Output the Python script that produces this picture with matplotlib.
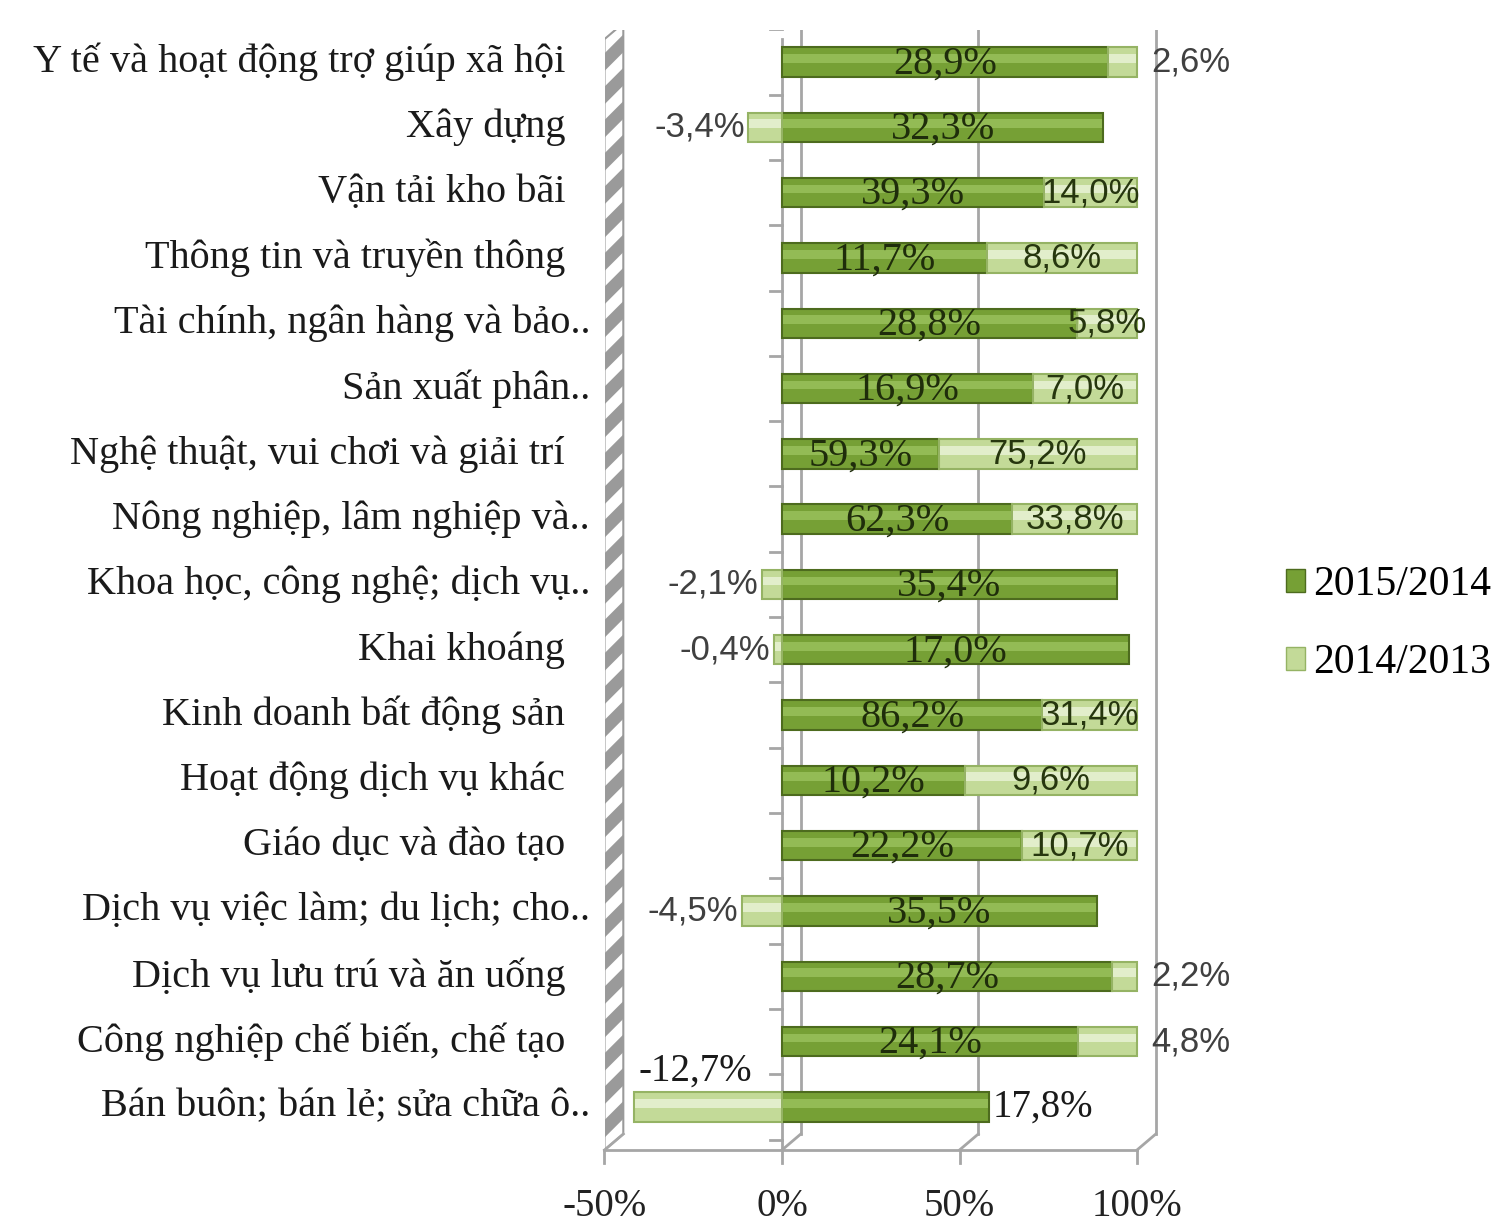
import numpy as np
import matplotlib
matplotlib.use('Agg')
import matplotlib.pyplot as plt
from matplotlib.patches import Polygon, Patch
from matplotlib import transforms

plt.rcParams['hatch.linewidth'] = 9

categories = ['Y tế và hoạt động trợ giúp xã hội', 'Xây dựng', 'Vận tải kho bãi',
              'Thông tin và truyền thông', 'Tài chính, ngân hàng và bảo..',
              'Sản xuất phân..', 'Nghệ thuật, vui chơi và giải trí',
              'Nông nghiệp, lâm nghiệp và..', 'Khoa học, công nghệ; dịch vụ..',
              'Khai khoáng', 'Kinh doanh bất động sản', 'Hoạt động dịch vụ khác',
              'Giáo dục và đào tạo', 'Dịch vụ việc làm; du lịch; cho..',
              'Dịch vụ lưu trú và ăn uống', 'Công nghiệp chế biến, chế tạo',
              'Bán buôn; bán lẻ; sửa chữa ô..']
g2015 = np.array([28.9, 32.3, 39.3, 11.7, 28.8, 16.9, 59.3, 62.3, 35.4, 17.0,
                  86.2, 10.2, 22.2, 35.5, 28.7, 24.1, 17.8])
g2014 = np.array([2.6, -3.4, 14.0, 8.6, 5.8, 7.0, 75.2, 33.8, -2.1, -0.4,
                  31.4, 9.6, 10.7, -4.5, 2.2, 4.8, -12.7])
xticks = [-50, 0, 50, 100]
series = ['2015/2014', '2014/2013']

# 100% stacked shares
tot = g2015 + np.abs(g2014)
gs = g2015 / tot * 100
ls = g2014 / tot * 100

fmt = lambda v: ('%.1f%%' % v).replace('.', ',')

W, H = 1501, 1228
fig = plt.figure(figsize=(W / 100, H / 100), dpi=100)
px0, pxpp = 604.5, 3.55
ax = fig.add_axes([px0 / W, 1 - 1150 / H, 160 * pxpp / W, 1120 / H])
ax.set_xlim(-50, 110)
ax.set_ylim(16.66, -0.49)
ax.axis('off')

dx, dy = 5.3, 0.245
ybot = 16.66
ytop = -0.35
grid_c = '#a6a6a6'

# left wall (striped)
wall = Polygon([(-50, ybot), (-50 + dx, ybot - dy), (-50 + dx, ytop - dy), (-50, ytop)],
               closed=True, facecolor='white', edgecolor='#9a9a9a', hatch='/', lw=1.5,
               zorder=1)
ax.add_patch(wall)

# back wall gridlines and floor
for x in xticks[1:]:
    ax.plot([x + dx, x + dx], [ytop - dy, ybot - dy], color=grid_c, lw=2, zorder=1)
for x in xticks:
    ax.plot([x, x + dx], [ybot, ybot - dy], color=grid_c, lw=2, zorder=1, clip_on=False)
    ax.plot([x, x], [ybot, ybot + 0.2], color=grid_c, lw=2, clip_on=False)
    ax.text(x, ybot + 0.86, '%d%%' % x, ha='center', va='center', fontsize=28,
            family='Liberation Serif', color='#222222', clip_on=False)
ax.plot([-50, 100], [ybot, ybot], color=grid_c, lw=2, clip_on=False)

# category axis at 0
ax.plot([0, 0], [ytop, ybot], color=grid_c, lw=2, zorder=1)
for b in np.arange(-0.5, 16.6, 1.0):
    ax.plot([-3.5, 0], [b, b], color=grid_c, lw=2, zorder=1)

y = np.arange(len(categories))
h = 0.45
gcol, gedge, ghi = '#76a035', '#4d6b1e', '#93bb55'
lcol, ledge, lhi = '#c3da98', '#95b364', '#e2eecb'

lleft = np.where(ls >= 0, gs, ls)
ax.barh(y, gs, left=0, height=h, color=gcol, edgecolor=gedge, lw=1.5, zorder=3)
ax.barh(y, np.abs(ls), left=lleft, height=h, color=lcol, edgecolor=ledge, lw=1.5, zorder=3)
ax.barh(y - h * 0.12, gs - 0.6, left=0.3, height=h * 0.3, color=ghi, lw=0, zorder=4)
ax.barh(y - h * 0.12, np.abs(ls) - 0.6, left=lleft + 0.3, height=h * 0.3, color=lhi,
        lw=0, zorder=4)

serif = 'Liberation Serif'
sans = 'Liberation Sans'
for i in range(len(categories)):
    if ls[i] < -20:
        ax.text(gs[i] + 1, i, fmt(g2015[i]), ha='left', va='center', fontsize=28,
                family=serif, color='#1a1a1a', zorder=6)
        ax.text(-8.5, i - 0.55, fmt(g2014[i]), ha='right', va='center', fontsize=28,
                family=serif, color='#1a1a1a', zorder=6)
        continue
    ax.text(gs[i] / 2, i + 0.03, fmt(g2015[i]), ha='center', va='center', fontsize=29,
            family=serif, color='#1f2d0b', zorder=6)
    if g2014[i] < 0:
        ax.text(ls[i] - 1, i, fmt(g2014[i]), ha='right', va='center', fontsize=25,
                family=sans, color='#404040', zorder=6)
    elif g2014[i] < 5:
        ax.text(104, i, fmt(g2014[i]), ha='left', va='center', fontsize=25,
                family=sans, color='#404040', zorder=6)
    else:
        ax.text(gs[i] + ls[i] / 2, i, fmt(g2014[i]), ha='center', va='center',
                fontsize=25, family=sans, color='#26360e', zorder=6)

# category labels
tr = transforms.blended_transform_factory(fig.transFigure, ax.transData)
for i, c in enumerate(categories):
    xr = 590 if c.endswith('..') else 565
    fig.text(xr / W, i, c, transform=tr, ha='right', va='center', fontsize=29,
             family=serif, color='#1a1a1a')

handles = [Patch(facecolor=gcol, edgecolor=gedge), Patch(facecolor=lcol, edgecolor=ledge)]
fig.legend(handles, series, loc='center left', bbox_to_anchor=(1286 / W, 1 - 624 / H),
           frameon=False, prop={'family': serif, 'size': 30}, handlelength=0.45,
           handleheight=0.45, handletextpad=0.2, labelspacing=0.95, borderpad=0,
           borderaxespad=0)

fig.savefig('out.png', dpi=100)
